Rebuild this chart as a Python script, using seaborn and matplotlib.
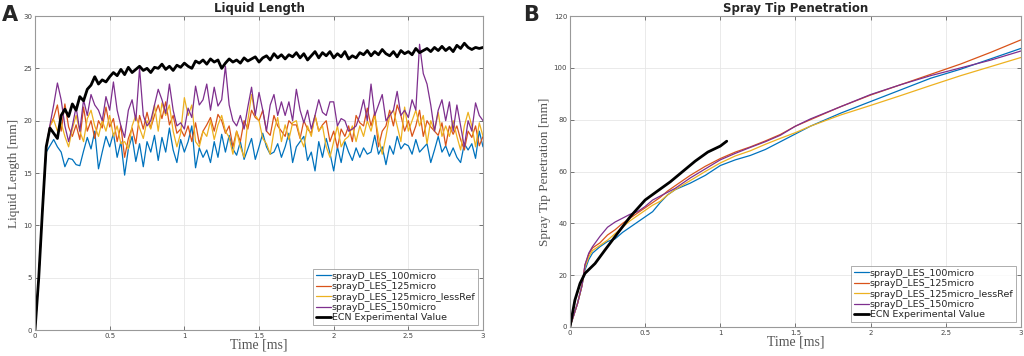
import numpy as np
import matplotlib
matplotlib.use('Agg')
import matplotlib.pyplot as plt
import seaborn as sns

# ============================================================
# DATA
# ============================================================
labels = ['sprayD_LES_100micro', 'sprayD_LES_125micro',
          'sprayD_LES_125micro_lessRef', 'sprayD_LES_150micro',
          'ECN Experimental Value']
colors = ['#0072BD', '#D95319', '#EDB120', '#7E2F8E', 'black']

# Panel A: liquid length, sampled every 0.025 ms
t_liq = np.round(np.arange(0, 3.0001, 0.025), 3)

liq_100 = [0, 5.0, 11.5, 17.0, 17.6, 18.2, 17.5, 17.0, 15.6, 16.4,
           16.3, 15.8, 15.7, 17.1, 18.4, 17.3, 19.0, 15.4, 17.0, 18.5,
           17.5, 18.8, 16.5, 18.0, 14.8, 17.3, 18.5, 16.1, 17.8, 15.6,
           18.0, 17.0, 18.6, 16.2, 18.4, 17.0, 19.3, 17.2, 16.0, 18.2,
           17.0, 18.0, 19.5, 15.5, 17.4, 16.5, 17.2, 16.0, 18.0, 16.5,
           18.7, 17.0, 18.6, 17.3, 16.7, 18.0, 16.3, 17.3, 18.3, 16.3,
           17.5, 18.8, 17.5, 16.8, 17.0, 17.8, 16.5, 17.5, 18.8, 16.0,
           17.5, 18.0, 18.5, 16.2, 17.0, 15.2, 18.0, 16.5, 18.3, 16.9,
           15.2, 17.5, 16.0, 18.0, 17.0, 16.2, 17.4, 16.5, 17.4, 16.8,
           17.0, 18.6, 16.8, 17.5, 15.8, 17.6, 16.8, 18.5, 17.3, 17.8,
           17.6, 16.8, 18.2, 17.0, 17.4, 17.8, 16.0, 17.2, 18.5, 17.0,
           17.6, 16.6, 17.4, 16.5, 16.0, 17.8, 17.2, 17.8, 16.4, 19.0,
           17.5]

liq_125 = [0, 5.0, 11.5, 17.5, 19.5, 20.3, 21.5, 19.0, 21.6, 19.4,
           18.5, 19.6, 18.2, 21.3, 19.0, 20.0, 18.3, 20.0, 19.3, 21.3,
           19.4, 20.2, 18.0, 19.5, 16.5, 18.3, 19.3, 17.8, 20.5, 19.2,
           20.8, 19.3, 20.5, 21.5, 20.2, 21.8, 19.6, 20.5, 18.8, 19.2,
           18.5, 19.5, 18.0, 19.8, 17.8, 19.0, 19.6, 20.3, 19.0, 20.6,
           20.0, 18.8, 19.5, 17.5, 19.0, 18.0, 20.0, 19.2, 21.0, 20.3,
           20.0, 21.0, 19.0, 18.6, 20.5, 19.5, 19.0, 18.5, 20.0, 19.6,
           19.6, 18.3, 20.0, 19.2, 18.8, 20.5, 19.0, 19.6, 20.0, 18.0,
           19.0, 17.4, 19.2, 18.5, 19.5, 18.0, 20.5, 19.8, 19.5, 21.2,
           19.5, 20.8, 17.5, 19.0, 19.5, 21.0, 19.5, 21.5, 20.5, 19.0,
           20.0, 18.5, 19.5, 21.0, 18.5, 20.0, 19.4, 19.0, 18.6, 19.8,
           17.6, 19.5, 18.7, 19.5, 18.2, 17.2, 19.0, 18.4, 19.5, 17.6,
           18.5]

liq_125_less = [0, 5.0, 11.5, 17.5, 19.5, 20.1, 19.0, 19.8, 18.5, 17.5,
                19.2, 20.5, 19.0, 18.0, 20.2, 21.0, 19.5, 18.5, 20.0, 19.0,
                20.5, 18.5, 19.5, 17.8, 18.0, 17.3, 19.5, 20.5, 19.3, 18.3,
                20.0, 19.2, 21.5, 19.0, 21.7, 20.5, 21.5, 19.0, 17.5, 18.8,
                22.2, 20.5, 21.5, 18.0, 17.5, 19.0, 18.5, 20.0, 18.2, 19.6,
                20.5, 19.0, 18.4, 16.8, 19.0, 17.5, 16.5, 20.0, 22.5, 20.5,
                20.0, 18.3, 17.8, 16.8, 19.0, 20.3, 18.0, 19.6, 18.2, 19.8,
                20.0, 18.4, 17.5, 19.5, 18.5, 20.5, 19.0, 19.5, 17.5, 16.5,
                18.0, 19.5, 17.5, 18.2, 18.5, 19.5, 18.0, 19.5, 18.5, 20.0,
                19.0, 20.5, 18.5, 16.8, 18.5, 20.5, 21.0, 19.5, 18.0, 21.3,
                19.0, 20.0, 21.0, 19.5, 20.5, 17.8, 20.0, 19.0, 20.8, 18.5,
                19.5, 18.5, 20.0, 18.5, 17.2, 19.5, 20.8, 19.5, 17.5, 19.8,
                18.5]

liq_150 = [0, 5.0, 11.5, 17.5, 19.6, 21.5, 23.6, 22.0, 19.5, 18.0,
           19.5, 21.3, 19.0, 22.0, 20.5, 22.5, 21.5, 21.0, 20.0, 22.3,
           21.0, 23.7, 21.0, 19.5, 18.4, 21.0, 22.0, 20.0, 25.0, 20.5,
           19.5, 20.0, 21.5, 23.0, 22.0, 20.7, 23.5, 21.0, 19.5, 19.8,
           19.2, 21.2, 20.3, 23.3, 21.5, 22.0, 23.5, 21.0, 23.2, 21.4,
           22.0, 25.2, 21.5, 20.0, 19.5, 20.5, 19.2, 21.3, 23.2, 20.5,
           22.7, 21.0, 19.0, 21.5, 22.5, 20.5, 21.8, 20.5, 21.8, 20.0,
           23.0, 21.0, 19.8, 21.0, 19.2, 20.5, 22.0, 20.8, 20.5, 21.8,
           21.8, 19.5, 20.2, 20.0, 19.0, 19.2, 19.5, 20.5, 22.0, 20.0,
           23.5, 20.5, 21.5, 22.5, 20.0, 20.5, 21.0, 22.8, 20.5, 21.0,
           20.3, 22.0, 21.0, 27.3, 24.5, 23.5, 21.5, 19.0, 21.0, 22.0,
           20.0, 21.8, 19.0, 21.5, 19.5, 17.5, 20.0, 19.0, 21.7, 20.5,
           20.0]

liq_ecn = [0, 5.0, 11.5, 17.5, 19.3, 18.8, 18.3, 20.5, 21.1, 20.4,
           21.6, 21.0, 22.3, 21.9, 23.0, 23.4, 24.2, 23.5, 23.9, 23.7,
           24.2, 24.6, 24.3, 24.9, 24.4, 25.1, 24.6, 24.9, 25.2, 24.8,
           25.0, 24.6, 25.1, 25.0, 25.4, 24.9, 25.2, 24.8, 25.3, 25.1,
           25.5, 25.2, 25.0, 25.7, 25.5, 25.8, 25.4, 25.9, 25.6, 25.8,
           25.0, 25.5, 25.9, 25.6, 25.8, 25.5, 26.0, 25.7, 25.9, 26.1,
           25.6, 26.0, 26.2, 25.8, 26.4, 26.0, 26.3, 25.9, 26.3, 26.1,
           26.5, 26.0, 26.4, 25.8, 26.2, 26.6, 26.0, 26.5, 26.2, 26.6,
           26.0, 26.4, 26.1, 26.6, 25.9, 26.2, 26.0, 26.5, 26.3, 26.7,
           26.2, 26.6, 26.3, 26.8, 26.4, 26.2, 26.6, 26.1, 26.7, 26.4,
           26.6, 26.3, 26.9, 26.5, 26.7, 26.9, 26.6, 27.0, 26.7, 27.1,
           26.7, 27.0, 26.6, 27.2, 26.9, 27.4, 27.0, 26.8, 27.0, 26.9,
           27.0]

# Panel B: spray tip penetration
t_pen = [0, 0.05, 0.08, 0.1, 0.125, 0.15, 0.2, 0.25, 0.3, 0.35, 0.4, 0.45,
         0.5, 0.55, 0.6, 0.65, 0.7, 0.8, 0.9, 1.0, 1.1, 1.2, 1.3, 1.4, 1.5,
         1.6, 1.8, 2.0, 2.2, 2.4, 2.6, 2.8, 3.0]
pen_100 = [0, 9.0, 16.0, 22.0, 26.0, 28.5, 31.0, 33.0, 34.0, 36.5, 38.5, 40.5,
           42.5, 44.5, 48.0, 51.0, 53.0, 55.5, 58.5, 62.3, 64.5, 66.2, 68.5,
           71.5, 74.5, 77.5, 82.5, 87.0, 91.5, 96.0, 99.5, 103.5, 107.5]
pen_125 = [0, 9.0, 16.0, 24.0, 28.0, 30.5, 32.5, 35.5, 37.5, 40.0, 42.0, 44.0,
           46.0, 48.0, 50.0, 52.5, 54.5, 58.5, 62.0, 65.0, 67.5, 69.5, 71.8,
           74.3, 77.5, 80.0, 85.0, 89.5, 93.5, 97.5, 101.5, 106.0, 110.8]
pen_125_less = [0, 9.0, 16.0, 23.0, 27.0, 29.5, 31.5, 33.5, 36.0, 38.5, 41.0,
                43.0, 45.0, 47.0, 48.5, 51.0, 53.0, 56.5, 60.0, 63.3, 66.0,
                68.0, 70.5, 72.8, 75.0, 77.5, 81.8, 85.5, 89.3, 93.2, 97.0,
                100.5, 104.0]
pen_150 = [0, 9.0, 16.0, 24.0, 28.5, 31.0, 35.0, 38.5, 40.5, 42.0, 43.5, 44.5,
           46.5, 49.0, 50.5, 52.0, 53.5, 57.5, 61.0, 64.5, 67.0, 69.3, 71.5,
           74.0, 77.5, 80.3, 85.0, 89.7, 93.5, 97.0, 100.0, 103.0, 106.5]

t_ecn = [0, 0.033, 0.067, 0.1, 0.167, 0.233, 0.333, 0.4, 0.5, 0.583, 0.667,
         0.75, 0.833, 0.917, 1.0, 1.043]
pen_ecn = [0, 10.4, 16.8, 20.7, 24.5, 29.7, 37.4, 42.5, 49.0, 52.5, 56.0,
           60.0, 64.0, 67.5, 69.8, 71.7]

# ============================================================
# PLOT
# ============================================================
sns.set_theme(style='whitegrid')
plt.rcParams['font.family'] = ['DejaVu Sans']
plt.rcParams['xtick.direction'] = 'in'
plt.rcParams['ytick.direction'] = 'in'

fig = plt.figure(figsize=(10.24, 3.56), dpi=100)
axA = fig.add_axes([0.0342, 0.073, 0.4375, 0.882])
axB = fig.add_axes([0.5566, 0.0815, 0.4404, 0.8735])

liq_series = [liq_100, liq_125, liq_125_less, liq_150]
for y, lab, c in zip(liq_series, labels[:4], colors[:4]):
    sns.lineplot(x=t_liq, y=y, ax=axA, color=c, linewidth=0.9, label=lab)
sns.lineplot(x=t_liq, y=liq_ecn, ax=axA, color='black', linewidth=2.0,
             label=labels[4])

pen_series = [pen_100, pen_125, pen_125_less, pen_150]
for y, lab, c in zip(pen_series, labels[:4], colors[:4]):
    sns.lineplot(x=t_pen, y=y, ax=axB, color=c, linewidth=0.9, label=lab)
sns.lineplot(x=t_ecn, y=pen_ecn, ax=axB, color='black', linewidth=2.0,
             label=labels[4])

setup = [(axA, 'Liquid Length', 'Liquid Length [mm]', 30, 5),
         (axB, 'Spray Tip Penetration', 'Spray Tip Penetration [mm]', 120, 20)]
for ax, title, ylab, ymax, ystep in setup:
    ax.set_xlim(0, 3)
    ax.set_ylim(0, ymax)
    ax.set_xticks([0, 0.5, 1, 1.5, 2, 2.5, 3])
    ax.set_xticklabels(['0', '0.5', '1', '1.5', '2', '2.5', '3'])
    ax.set_yticks(np.arange(0, ymax + 1, ystep))
    ax.tick_params(labelsize=5, colors='#444444', length=3, width=0.5,
                   pad=2, top=True, right=True, bottom=True, left=True)
    ax.grid(True, color='#e6e6e6', linewidth=0.6)
    for s in ax.spines.values():
        s.set_color('#999999')
        s.set_linewidth(0.8)
    ax.set_title(title, fontsize=8.5, fontweight='bold', pad=3)
    ax.set_xlabel('Time [ms]', family='Liberation Serif', fontsize=10,
                  color='#555555', labelpad=0)
    ax.set_ylabel(ylab, family='Liberation Serif', fontsize=9.5,
                  color='#555555', labelpad=2)
    leg = ax.legend(loc='lower right', fontsize=6.8, frameon=True, fancybox=False,
                    borderpad=0.3, labelspacing=0.15, handlelength=1.6,
                    handletextpad=0.1, borderaxespad=0.5)
    leg.get_frame().set_edgecolor('#888888')
    leg.get_frame().set_linewidth(0.6)

fig.text(0.002, 0.985, 'A', fontsize=15, fontweight='bold', va='top')
fig.text(0.511, 0.985, 'B', fontsize=15, fontweight='bold', va='top')

plt.savefig('out.png', dpi=100)
